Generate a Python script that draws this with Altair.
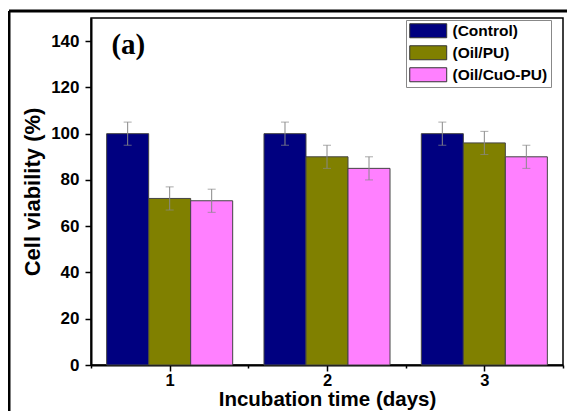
import altair as alt
import pandas as pd

# ---- data ----
days = [1, 2, 3]
groups = ["(Control)", "(Oil/PU)", "(Oil/CuO-PU)"]
control = [100, 100, 100]
oil_pu = [72, 90, 96]
oil_cuo_pu = [71, 85, 90]
err_control = [5, 5, 5]
err_oil_pu = [5, 5, 5]
err_oil_cuo_pu = [5, 5, 5]
colors = ["#000080", "#808000", "#FF80FF"]
y_ticks = list(range(0, 151, 10))
x_ticks = [0.5, 1, 1.5, 2, 2.5, 3, 3.5]
panel_label = ["(a)"]
panel_label_x = [0.63]
panel_label_y = [138.5]

rows = []
for gi, (g, vals, errs) in enumerate(zip(groups, [control, oil_pu, oil_cuo_pu],
                                          [err_control, err_oil_pu, err_oil_cuo_pu])):
    for d, v, e in zip(days, vals, errs):
        rows.append(dict(day=d, group=g, gi=gi, value=v, err=e))
df = pd.DataFrame(rows)
ann = pd.DataFrame(dict(t=panel_label, x=panel_label_x, y=panel_label_y))

W, H = 472, 347
STEP = 0.267
FONT = "Liberation Sans"

xscale = alt.Scale(domain=[0.5, 3.5], nice=False, zero=False)
yscale = alt.Scale(domain=[0, 150], nice=False)

base = alt.Chart(df).transform_calculate(
    xc=f"datum.day + (datum.gi - 1) * {STEP}",
    x0=f"datum.day + (datum.gi - 1) * {STEP} - {STEP / 2}",
    x1=f"datum.day + (datum.gi - 1) * {STEP} + {STEP / 2}",
    lo="datum.value - datum.err",
    hi="datum.value + datum.err",
    zero="0",
)

xaxis = alt.Axis(
    values=x_ticks,
    labelExpr="datum.value % 1 === 0 ? toString(datum.value) : ''",
    tickSize={"condition": {"test": "datum.value % 1 === 0", "value": 6}, "value": 3},
    title="Incubation time (days)",
    grid=False,
)
yaxis = alt.Axis(
    values=y_ticks,
    labelExpr="datum.value % 20 === 0 ? toString(datum.value) : ''",
    tickSize={"condition": {"test": "datum.value % 20 === 0", "value": 6}, "value": 3},
    title="Cell viability (%)",
    grid=False,
)

bars = base.mark_bar(stroke="#444", strokeWidth=1).encode(
    x=alt.X("x0:Q", scale=xscale, axis=xaxis),
    x2="x1:Q",
    y=alt.Y("value:Q", scale=yscale, axis=yaxis),
    y2="zero:Q",
    color=alt.Color(
        "group:N",
        scale=alt.Scale(domain=groups, range=colors),
        legend=alt.Legend(
            title=None,
            orient="none",
            legendX=315,
            legendY=2,
            symbolType="M-1,-1H4.28V1H-1Z",
            symbolSize=196,
            symbolStrokeColor="#333",
            symbolStrokeWidth=1,
            symbolOpacity=1,
            fillColor="white",
            strokeColor="#888",
            padding=3,
            labelFont=FONT,
            labelFontWeight="bold",
            labelFontSize=15.5,
            labelColor="black",
            labelOffset=28,
            rowPadding=3,
        ),
    ),
)

err_rule = base.mark_rule(color="#888", strokeWidth=1).encode(
    x="xc:Q", y="lo:Q", y2="hi:Q"
)
cap_lo = base.mark_tick(color="#888", thickness=1, size=8, orient="horizontal").encode(
    x="xc:Q", y="lo:Q"
)
cap_hi = base.mark_tick(color="#888", thickness=1, size=8, orient="horizontal").encode(
    x="xc:Q", y="hi:Q"
)

label = alt.Chart(ann).mark_text(
    font="Liberation Serif", fontWeight="bold", fontSize=29, align="left", baseline="middle"
).encode(x="x:Q", y="y:Q", text="t:N")

frame_left = alt.Chart(ann).mark_rule(color="black", strokeWidth=3).encode(
    x=alt.value(-82), y=alt.value(-7), y2=alt.value(H + 60)
)
frame_top = alt.Chart(ann).mark_rule(color="black", strokeWidth=3).encode(
    x=alt.value(-82), x2=alt.value(W + 40), y=alt.value(-7)
)

chart = alt.layer(frame_left, frame_top, bars, err_rule, cap_lo, cap_hi, label).properties(
    width=W,
    height=H,
    autosize=alt.AutoSizeParams(type="none"),
    padding={"left": 83, "top": 10, "right": 4, "bottom": 46},
).configure_view(
    stroke="black", strokeWidth=1.5
).configure_axis(
    domainColor="black",
    domainWidth=2,
    tickColor="black",
    tickWidth=1.5,
    labelFont=FONT,
    labelFontWeight="bold",
    labelColor="black",
    titleFont=FONT,
    titleFontWeight="bold",
    titleColor="black",
).configure_axisY(
    labelFontSize=17,
    labelPadding=6,
    titleFontSize=22,
    titlePadding=6,
).configure_axisX(
    labelFontSize=16.5,
    labelPadding=1,
    titleFontSize=20.5,
    titlePadding=1,
)

chart.save("out.html", embed_options={"renderer": "svg", "actions": False})
